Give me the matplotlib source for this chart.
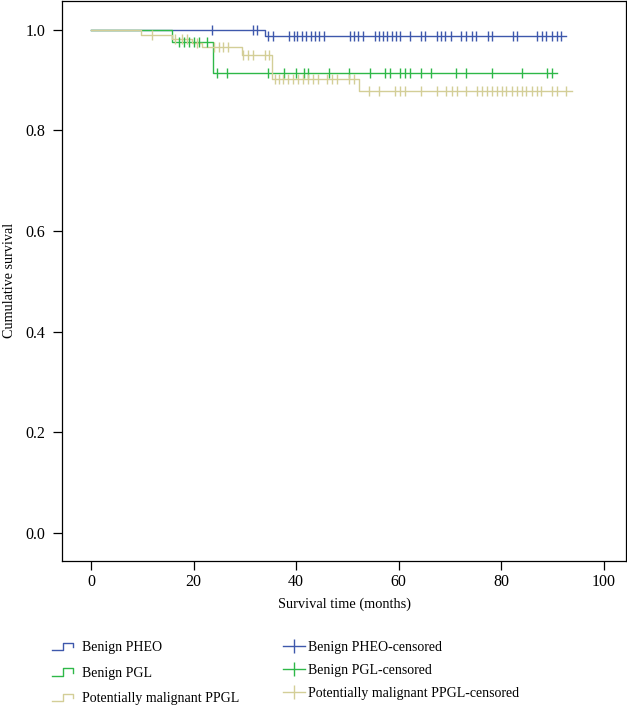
import numpy as np
import matplotlib
matplotlib.use("Agg")
import matplotlib.pyplot as plt
from matplotlib.lines import Line2D
from matplotlib.legend_handler import HandlerBase

plt.rcParams['font.family'] = ['Liberation Serif', 'DejaVu Serif']

# ---------------- data ----------------
group_names = ["Benign PHEO", "Benign PGL", "Potentially malignant PPGL"]
group_colors = ["#3E58AC", "#2EB848", "#D3CE97"]

pheo_times = [0, 34.0]
pheo_surv = [1.0, 0.988]
pheo_end = 92.7
pheo_censor = [23.5, 31.6, 32.4, 34.6, 35.4, 38.7, 39.5, 40.2, 41.1, 41.9, 42.8,
               43.7, 44.5, 45.4, 50.4, 51.2, 52.0, 53.0, 55.4, 56.2, 57.0, 57.8,
               58.6, 59.4, 60.2, 62.2, 64.3, 65.2, 67.4, 68.2, 69.1, 70.2, 72.2,
               73.2, 74.2, 75.0, 77.3, 78.2, 82.2, 83.0, 87.0, 87.9, 88.8, 89.8,
               90.8, 91.7]

pgl_times = [0, 15.7, 23.7]
pgl_surv = [1.0, 0.976, 0.913]
pgl_end = 90.9
pgl_censor = [17.1, 18.1, 19.1, 20.1, 21.1, 22.6, 24.6, 26.6, 34.6, 37.6, 40.0,
              41.5, 42.4, 46.4, 50.3, 54.4, 57.3, 58.2, 60.3, 61.3, 62.2, 64.3,
              66.2, 71.2, 73.1, 78.1, 84.0, 88.9, 89.9]

ppgl_times = [0, 9.7, 15.7, 19.7, 21.6, 29.5, 35.3, 52.3]
ppgl_surv = [1.0, 0.989, 0.981, 0.973, 0.966, 0.950, 0.902, 0.879]
ppgl_end = 93.7
ppgl_censor = [11.8, 16.4, 17.7, 18.7, 20.6, 24.0, 24.9, 25.8, 26.7, 29.7, 30.6,
               31.6, 33.9, 34.8, 35.8, 36.6, 37.5, 38.5, 39.4, 40.4, 41.4, 42.4,
               43.3, 44.3, 46.0, 47.0, 48.0, 50.3, 51.3, 54.2, 56.2, 59.3, 60.2,
               61.2, 64.3, 67.4, 69.3, 70.3, 71.3, 73.2, 75.2, 76.2, 77.2, 78.1,
               79.1, 80.1, 81.0, 82.0, 83.0, 84.0, 84.9, 85.9, 86.9, 87.8, 89.8,
               90.8, 92.7]

x_ticks = [0, 20, 40, 60, 80, 100]
y_ticks = [0.0, 0.2, 0.4, 0.6, 0.8, 1.0]

groups = [
    (pheo_times, pheo_surv, pheo_end, pheo_censor),
    (pgl_times, pgl_surv, pgl_end, pgl_censor),
    (ppgl_times, ppgl_surv, ppgl_end, ppgl_censor),
]

# ---------------- figure ----------------
fig = plt.figure(figsize=(6.27, 7.2), dpi=100)
ax = fig.add_axes([62/627, 1 - 561/720, (626-62)/627, 561/720 - 0.001])

lw = 1.0
for (t, s, end, cens), col in zip(groups, group_colors):
    tt = list(t) + [end]
    ss = list(s) + [s[-1]]
    ax.step(tt, ss, where='post', color=col, lw=lw, zorder=2)
    cy = [s[np.searchsorted(t, c, side='right') - 1] for c in cens]
    ax.plot(cens, cy, ls='none', marker='|', ms=6.5, mew=1.0, color=col, zorder=3)

ax.set_xlim(-5.65, 104.3)
ax.set_ylim(-0.0556, 1.0575)
ax.set_xticks(x_ticks)
ax.set_yticks(y_ticks)
ax.set_yticklabels([f"{v:.1f}" for v in y_ticks])
ax.tick_params(direction='out', length=6.5, width=0.9, labelsize=11.5)
ax.tick_params(axis='x', pad=3)
ax.tick_params(axis='y', pad=5.5)
for sp in ax.spines.values():
    sp.set_linewidth(0.9)
ax.set_xlabel("Survival time (months)", fontsize=10.4, labelpad=5)
ax.set_ylabel("Cumulative survival", fontsize=10.2, labelpad=7)


# ---------------- legend ----------------
class StepHandler(HandlerBase):
    def create_artists(self, legend, orig_handle, xdescent, ydescent, width,
                       height, fontsize, trans):
        x0 = -xdescent
        y0 = -ydescent
        xs = [x0, x0 + 0.55*width, x0 + 0.55*width, x0 + width, x0 + width]
        ys = [y0 + 0.1*height, y0 + 0.1*height, y0 + 0.85*height,
              y0 + 0.85*height, y0 + 0.4*height]
        ln = Line2D(xs, ys, color=orig_handle.get_color(), lw=1.0,
                    transform=trans)
        return [ln]


step_handles = [Line2D([], [], color=c) for c in group_colors]
cens_handles = [Line2D([], [], color=c, lw=1.0, marker='|', ms=10, mew=1.0)
                for c in group_colors]

leg1 = fig.legend(step_handles, group_names, loc='upper left',
                  bbox_to_anchor=(52/627, 1 - 641/720), frameon=False,
                  fontsize=10, handler_map={Line2D: StepHandler()},
                  handlelength=1.5, handletextpad=0.65, labelspacing=0.9,
                  borderpad=0, borderaxespad=0)
leg2 = fig.legend(cens_handles, [n + "-censored" for n in group_names],
                  loc='upper left', bbox_to_anchor=(283/627, 1 - 641/720),
                  frameon=False, fontsize=10, handlelength=1.6,
                  handletextpad=0.2, labelspacing=0.72, borderpad=0,
                  borderaxespad=0)

fig.savefig("out.png", dpi=100)
